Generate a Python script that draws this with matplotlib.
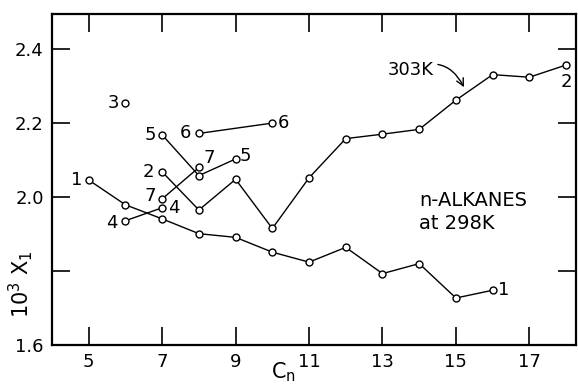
import matplotlib
matplotlib.use('Agg')
import matplotlib.pyplot as plt

plt.rcParams['font.family'] = ['DejaVu Sans']

# values (10^3 x1 against carbon number)
n_alkanes = [5, 6, 7, 8, 9, 10, 11, 12, 13, 14, 15, 16]
x1_alkanes = [2.046, 1.979, 1.941, 1.901, 1.891, 1.851, 1.824, 1.864, 1.793, 1.820, 1.727, 1.748]

n_303 = [7, 8, 9, 10, 11, 12, 13, 14, 15, 16, 17, 18]
x1_303 = [2.068, 1.965, 2.048, 1.915, 2.052, 2.158, 2.170, 2.183, 2.262, 2.331, 2.324, 2.357]

n_3, x1_3 = [6], [2.254]
n_4, x1_4 = [6, 7], [1.936, 1.971]
n_5, x1_5 = [7, 8, 9], [2.168, 2.058, 2.103]
n_6, x1_6 = [8, 10], [2.172, 2.200]
n_7, x1_7 = [7, 8], [1.995, 2.080]

fig = plt.figure(figsize=(5.78, 3.84), dpi=100)
ax = fig.add_axes([0.09, 0.1016, 0.9065, 0.862])

style = dict(color='black', lw=1.0, marker='o', markersize=5,
             markerfacecolor='white', markeredgecolor='black', markeredgewidth=1.0)
for xs, ys in [(n_alkanes, x1_alkanes), (n_303, x1_303), (n_3, x1_3), (n_4, x1_4),
               (n_5, x1_5), (n_6, x1_6), (n_7, x1_7)]:
    ax.plot(xs, ys, **style)

fs = 13
# series numbers next to the curves
ax.annotate('1', (5, 2.046), xytext=(-13, 0), textcoords='offset points', fontsize=fs, va='center')
ax.annotate('1', (16, 1.748), xytext=(4, 0), textcoords='offset points', fontsize=fs, va='center')
ax.annotate('2', (7, 2.068), xytext=(-14, 0), textcoords='offset points', fontsize=fs, va='center')
ax.annotate('2', (18, 2.357), xytext=(-4, -12), textcoords='offset points', fontsize=fs, va='center')
ax.annotate('3', (6, 2.254), xytext=(-13, 0), textcoords='offset points', fontsize=fs, va='center')
ax.annotate('4', (6, 1.936), xytext=(-14, -2), textcoords='offset points', fontsize=fs, va='center')
ax.annotate('4', (7, 1.971), xytext=(4, 0), textcoords='offset points', fontsize=fs, va='center')
ax.annotate('5', (7, 2.168), xytext=(-13, 0), textcoords='offset points', fontsize=fs, va='center')
ax.annotate('5', (9, 2.103), xytext=(3, 2), textcoords='offset points', fontsize=fs, va='center')
ax.annotate('6', (8, 2.172), xytext=(-14, 0), textcoords='offset points', fontsize=fs, va='center')
ax.annotate('6', (10, 2.200), xytext=(4, 0), textcoords='offset points', fontsize=fs, va='center')
ax.annotate('7', (7, 1.995), xytext=(-13, 2), textcoords='offset points', fontsize=fs, va='center')
ax.annotate('7', (8, 2.080), xytext=(3, 7), textcoords='offset points', fontsize=fs, va='center')

ax.annotate('303K', xy=(15.22, 2.297), xytext=(13.77, 2.343), fontsize=fs,
            ha='center', va='center',
            arrowprops=dict(arrowstyle='->', color='black', lw=1.0,
                            connectionstyle='arc3,rad=-0.5', shrinkA=1, shrinkB=0))
ax.text(14.0, 1.96, 'n-ALKANES\nat 298K', fontsize=fs + 1, ha='left', va='center',
        linespacing=1.25)

ax.set_xlim(4.0, 18.27)
ax.set_ylim(1.6, 2.495)
ax.set_xticks([5, 7, 9, 11, 13, 15, 17])
ax.set_yticks([1.6, 1.8, 2.0, 2.2, 2.4])
ax.set_yticklabels(['1.6', '', '2.0', '2.2', '2.4'])
ax.tick_params(direction='in', length=13, width=1.2, labelsize=fs,
               top=True, right=True, pad=6)
for side in ax.spines:
    ax.spines[side].set_linewidth(1.6)

fig.text(0.035, 0.26, '10$^3$ X$_1$', rotation=90, fontsize=15, ha='center', va='center')
fig.text(0.49, 0.03, 'C$_\\mathrm{n}$', fontsize=15, ha='center', va='center')

fig.savefig('out.png', dpi=100)
